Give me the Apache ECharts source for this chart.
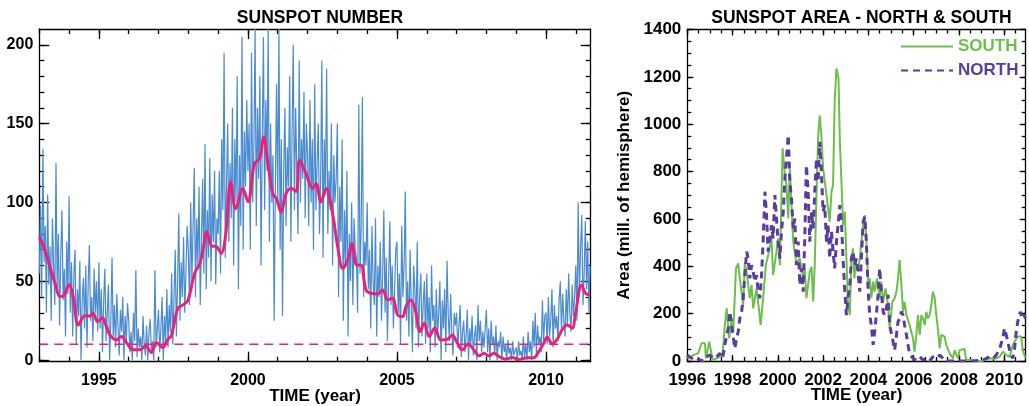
<!DOCTYPE html>
<html>
<head>
<meta charset="utf-8">
<script src="https://cdn.jsdelivr.net/npm/echarts@6/dist/echarts.min.js"></script>
<style>
html,body{margin:0;padding:0;background:#fff;}
#c{width:1029px;height:406px;}
</style>
</head>
<body>
<div id="c"></div>
<script>
// ---------------- DATA ----------------
// Left: daily-like sunspot number, sampled every 0.04 yr from 1993.0 (one row per year)
const blueStartYear = 1993.0;
const blueStepYears = 0.04;
const sunspotValues = [
 55,98,40,134,62,85,30,105,48,72,25,90,60,35,125,45,80,22,66,95,38,58,15,75,42,
 104,30,62,15,55,70,10,45,28,63,0,38,52,20,60,8,48,73,25,40,12,58,30,50,18,
 62,20,45,5,38,58,12,30,48,0,25,65,15,35,8,42,22,3,32,18,40,0,28,12,36,
 25,5,18,0,30,12,57,2,20,8,15,0,28,10,3,22,0,18,26,5,12,0,57,8,20,
 32,5,20,40,0,28,12,45,8,35,18,55,10,40,70,15,50,93,25,62,40,78,30,55,85,
 70,35,100,50,85,122,40,90,60,110,35,75,115,55,137,45,95,65,128,50,105,75,120,48,90,
 80,120,55,140,95,195,65,110,150,75,125,90,160,60,140,100,180,45,130,85,205,70,145,110,165,
 120,150,70,195,100,135,210,85,160,115,180,60,140,205,95,165,120,210,75,150,100,130,25,110,175,
 100,210,70,140,28,120,160,85,135,110,180,75,145,200,95,160,120,80,190,100,140,115,170,90,150,
 130,85,165,100,140,70,175,95,125,150,80,115,190,65,140,105,185,80,120,95,150,60,130,100,115,
 150,40,110,75,140,25,95,60,120,15,80,50,100,35,90,70,65,30,162,55,85,167,40,75,60,
 100,45,70,20,85,50,35,90,15,60,40,75,25,55,95,30,65,12,50,88,35,60,20,45,70,
 75,30,55,10,85,40,60,107,25,50,15,70,35,5,60,45,20,75,8,40,55,15,35,50,10,
 55,20,40,5,60,25,35,8,45,15,30,50,0,38,20,45,5,63,28,12,42,18,3,30,22,
 30,8,22,35,2,18,25,5,15,32,0,20,10,28,3,15,22,0,35,12,25,5,18,8,20,
 32,5,20,0,25,10,15,3,22,0,12,8,18,0,15,5,10,0,13,4,8,0,12,3,6,
 8,0,12,3,6,0,15,2,10,0,18,5,12,0,25,8,30,3,22,10,15,5,38,12,28,
 30,10,40,15,25,45,8,35,20,28,12,38,50,18,42,25,15,45,22,55,30,18,48,28,40,
 60,25,100,40,70,92,35,55,88,45,75,30,60
];
// Left: smoothed sunspot number [year, value]
const smoothedSunspot = [
 [1993.0,78],[1993.13,73],[1993.36,59],[1993.53,48.7],[1993.69,40.3],[1993.83,41],[1994.0,48],[1994.14,40],
 [1994.31,22.3],[1994.53,28.2],[1994.7,28],[1994.81,29.7],[1994.95,24.4],[1995.12,26.8],[1995.23,22.3],
 [1995.37,16],[1995.59,12.8],[1995.76,15],[1995.93,11],[1996.15,6.5],[1996.37,6.5],[1996.57,9],[1996.76,4.8],
 [1996.93,11.2],[1997.13,8],[1997.32,13.3],[1997.43,15.5],[1997.65,33],[1997.82,35],[1997.99,38],[1998.21,55],
 [1998.38,61],[1998.49,70],[1998.62,81.4],[1998.79,72.3],[1998.94,72],[1999.1,67.7],[1999.25,79],[1999.42,113],
 [1999.59,96],[1999.83,108.9],[2000.0,100.4],[2000.22,124.7],[2000.39,127.8],[2000.53,141.5],[2000.67,124.7],
 [2000.83,105.7],[2000.95,102.7],[2001.11,94],[2001.28,105.7],[2001.45,109],[2001.62,107],[2001.73,126.8],
 [2001.95,118.3],[2002.17,108.9],[2002.29,111.8],[2002.45,100.4],[2002.62,108.9],[2002.84,93],[2003.01,72],
 [2003.18,58.2],[2003.35,63.5],[2003.49,74],[2003.65,60.3],[2003.79,60.3],[2003.96,44.5],[2004.13,42.4],
 [2004.35,42],[2004.52,44.5],[2004.69,38.2],[2004.85,39.3],[2005.02,28.7],[2005.19,27.6],[2005.3,33.9],
 [2005.47,38.2],[2005.64,29.7],[2005.77,18.1],[2005.92,23.4],[2006.08,14.9],[2006.27,20.3],[2006.47,12.8],
 [2006.7,13.3],[2006.86,16],[2007.02,11],[2007.19,6.5],[2007.39,10.3],[2007.58,6.5],[2007.75,2.7],[2007.92,4.4],
 [2008.08,2.7],[2008.25,4.4],[2008.42,2.3],[2008.64,0.6],[2008.86,1.7],[2009.09,0.4],[2009.37,1.5],[2009.59,1.5],
 [2009.76,5.5],[2009.93,10.8],[2010.04,14.6],[2010.21,10.3],[2010.38,13.3],[2010.54,19.2],[2010.71,22.3],
 [2010.88,20.3],[2010.99,29.7],[2011.19,47.7],[2011.33,42.4],[2011.46,41.3]
];
const thresholdValue = 10;
const leftXRange = [1993, 2011.5];
const leftYRange = [-1, 210];
const leftYearTicks = [1995, 2000, 2005, 2010];
const leftYearMinorTicks = [1993,1994,1995,1996,1997,1998,1999,2000,2001,2002,2003,2004,2005,2006,2007,2008,2009,2010,2011];
const leftValueTicks = [0, 50, 100, 150, 200];
const leftValueMinorTicks = [0,10,20,30,40,50,60,70,80,90,100,110,120,130,140,150,160,170,180,190,200];

// Right: sunspot area [year, millionths of hemisphere]
const southArea = [
 [1996.0,11],[1996.26,25],[1996.48,32],[1996.63,75],[1996.78,75],[1996.82,11],[1996.97,82],[1997.04,84],[1997.12,4],
 [1997.29,11],[1997.44,18],[1997.56,32],[1997.66,152],[1997.74,222],[1997.85,96],[1997.96,180],[1998.03,124],
 [1998.15,391],[1998.25,412],[1998.32,349],[1998.47,236],[1998.54,412],[1998.62,377],[1998.76,265],[1998.84,321],
 [1998.91,222],[1999.06,307],[1999.13,250],[1999.24,152],[1999.35,265],[1999.47,405],[1999.57,447],[1999.72,518],
 [1999.79,363],[1999.94,462],[2000.01,518],[2000.09,405],[2000.21,898],[2000.31,785],[2000.38,743],[2000.46,602],
 [2000.53,813],[2000.68,504],[2000.82,412],[2000.97,433],[2001.12,349],[2001.19,391],[2001.26,265],[2001.41,377],
 [2001.49,398],[2001.56,250],[2001.63,405],[2001.71,715],[2001.78,947],[2001.85,1038],[2001.93,940],[2002.0,813],
 [2002.15,701],[2002.29,588],[2002.37,715],[2002.44,743],[2002.51,1095],[2002.59,1235],[2002.68,1193],[2002.74,926],
 [2002.81,757],[2002.88,574],[2002.96,630],[2003.03,433],[2003.1,236],[2003.18,194],[2003.25,433],[2003.32,476],
 [2003.38,349],[2003.44,405],[2003.54,377],[2003.62,433],[2003.69,504],[2003.77,574],[2003.84,616],[2003.91,518],
 [2003.99,321],[2004.06,349],[2004.13,265],[2004.21,335],[2004.28,293],[2004.38,349],[2004.5,265],[2004.57,335],
 [2004.65,250],[2004.76,307],[2004.87,236],[2004.94,138],[2005.06,250],[2005.16,265],[2005.24,293],[2005.31,349],
 [2005.38,426],[2005.46,321],[2005.53,208],[2005.6,250],[2005.68,194],[2005.82,152],[2005.97,96],[2006.04,39],
 [2006.12,110],[2006.19,194],[2006.27,110],[2006.34,194],[2006.41,180],[2006.49,152],[2006.56,208],[2006.63,180],
 [2006.71,194],[2006.78,236],[2006.85,293],[2006.93,265],[2007.0,194],[2007.07,138],[2007.15,53],[2007.22,110],
 [2007.3,117],[2007.37,103],[2007.44,68],[2007.59,32],[2007.74,11],[2007.81,46],[2007.88,46],[2007.96,11],
 [2008.03,46],[2008.25,51],[2008.32,4],[2008.47,4],[2008.7,0],[2009.0,0],[2009.35,11],[2009.65,11],[2009.8,18],
 [2009.94,39],[2010.09,25],[2010.24,18],[2010.38,68],[2010.5,89],[2010.6,103],[2010.75,103],[2010.82,46],[2010.94,11]
];
const northArea = [
 [1996.0,25],[1996.19,11],[1996.34,18],[1996.56,4],[1996.7,0],[1996.85,18],[1997.0,25],[1997.15,11],[1997.29,18],
 [1997.44,32],[1997.56,11],[1997.66,68],[1997.74,110],[1997.81,138],[1997.88,208],[1997.96,152],[1998.03,103],
 [1998.1,53],[1998.18,96],[1998.25,124],[1998.32,180],[1998.4,208],[1998.47,265],[1998.54,363],[1998.62,462],
 [1998.69,433],[1998.76,349],[1998.84,405],[1998.91,377],[1998.99,335],[1999.06,363],[1999.13,293],[1999.21,265],
 [1999.28,363],[1999.35,504],[1999.43,715],[1999.5,616],[1999.57,462],[1999.65,518],[1999.72,574],[1999.79,518],
 [1999.87,701],[1999.94,602],[2000.01,504],[2000.09,433],[2000.16,546],[2000.24,630],[2000.31,771],[2000.38,855],
 [2000.46,954],[2000.53,757],[2000.6,687],[2000.68,560],[2000.75,602],[2000.82,405],[2000.9,504],[2000.97,321],
 [2001.04,391],[2001.12,293],[2001.19,518],[2001.26,827],[2001.34,715],[2001.41,504],[2001.49,630],[2001.56,560],
 [2001.63,715],[2001.71,855],[2001.78,757],[2001.85,926],[2001.93,785],[2002.0,630],[2002.07,658],[2002.15,504],
 [2002.22,574],[2002.29,433],[2002.37,546],[2002.44,462],[2002.51,391],[2002.59,504],[2002.66,574],[2002.74,658],
 [2002.81,588],[2002.88,433],[2002.96,293],[2003.03,194],[2003.1,265],[2003.18,321],[2003.25,433],[2003.32,462],
 [2003.4,405],[2003.47,433],[2003.54,377],[2003.62,293],[2003.69,433],[2003.77,588],[2003.84,609],[2003.91,504],
 [2003.99,293],[2004.06,194],[2004.13,152],[2004.21,68],[2004.28,124],[2004.35,194],[2004.43,279],[2004.5,391],
 [2004.57,293],[2004.65,208],[2004.72,194],[2004.8,222],[2004.87,279],[2004.94,152],[2005.09,82],[2005.16,46],
 [2005.24,110],[2005.31,166],[2005.38,180],[2005.46,208],[2005.53,194],[2005.6,152],[2005.68,110],[2005.75,68],
 [2005.82,32],[2005.97,11],[2006.12,4],[2006.27,18],[2006.41,4],[2006.56,11],[2006.71,0],[2006.85,18],[2007.0,11],
 [2007.15,25],[2007.3,11],[2007.44,0],[2008.0,0],[2008.6,0],[2009.06,4],[2009.35,18],[2009.5,11],[2009.65,25],
 [2009.8,53],[2009.94,96],[2010.01,138],[2010.09,110],[2010.16,82],[2010.24,46],[2010.31,25],[2010.38,11],
 [2010.46,53],[2010.53,124],[2010.6,166],[2010.71,208],[2010.79,180],[2010.88,194],[2010.94,180]
];
const rightXRange = [1996, 2010.95];
const rightYRange = [0, 1400];
const rightYearTicks = [1996, 1998, 2000, 2002, 2004, 2006, 2008, 2010];
const rightYearMinorTicks = [1996,1996.5,1997,1997.5,1998,1998.5,1999,1999.5,2000,2000.5,2001,2001.5,2002,2002.5,2003,2003.5,2004,2004.5,2005,2005.5,2006,2006.5,2007,2007.5,2008,2008.5,2009,2009.5,2010,2010.5];
const rightValueTicks = [0, 200, 400, 600, 800, 1000, 1200, 1400];
const rightValueMinorTicks = [0,50,100,150,200,250,300,350,400,450,500,550,600,650,700,750,800,850,900,950,1000,1050,1100,1150,1200,1250,1300,1350,1400];

// ---------------- STYLE ----------------
const FONT = "'Liberation Sans', Arial, Helvetica, sans-serif";
const AX = '#000';
const BLUE = '#4a8bcf';
const PINK = '#e8227c';
const GREEN = '#6cc04a';
const PURPLE = '#5a3c9f';
const plain = (v) => String(v);

function boxAxes(gridIndex, xr, yr, xMaj, xMin, yMaj, yMin, majLen, minLen, fs, xName, yName, o) {
  const line = {color: AX, width: 1.3};
  const base = (extra) => Object.assign({gridIndex, type: 'value', splitLine: {show: false}, axisPointer: {show: false}}, extra);
  const xs = [
    base({position: 'bottom', min: xr[0], max: xr[1],
      axisLine: {show: true, onZero: false, lineStyle: line},
      axisTick: {show: true, inside: true, length: majLen, customValues: xMaj, lineStyle: line},
      axisLabel: {show: true, customValues: xMaj, formatter: plain, fontSize: fs, fontWeight: 'bold', color: '#000', fontFamily: FONT, margin: o.xLabelMargin},
      name: xName, nameLocation: 'middle', nameGap: o.xNameGap, nameMoveOverlap: false,
      nameTextStyle: {fontSize: 17, fontWeight: 'bold', color: '#000', fontFamily: FONT}}),
    base({position: 'bottom', min: xr[0], max: xr[1],
      axisLine: {show: false, onZero: false},
      axisTick: {show: true, inside: true, length: minLen, customValues: xMin, lineStyle: line},
      axisLabel: {show: false}}),
    base({position: 'top', min: xr[0], max: xr[1],
      axisLine: {show: true, onZero: false, lineStyle: line},
      axisTick: {show: true, inside: true, length: majLen, customValues: xMaj, lineStyle: line},
      axisLabel: {show: false}}),
    base({position: 'top', min: xr[0], max: xr[1],
      axisLine: {show: false, onZero: false},
      axisTick: {show: true, inside: true, length: minLen, customValues: xMin, lineStyle: line},
      axisLabel: {show: false}})
  ];
  const ys = [
    base({position: 'left', min: yr[0], max: yr[1],
      axisLine: {show: true, onZero: false, lineStyle: line},
      axisTick: {show: true, inside: true, length: majLen, customValues: yMaj, lineStyle: line},
      axisLabel: {show: true, customValues: yMaj, formatter: plain, fontSize: fs, fontWeight: 'bold', color: '#000', fontFamily: FONT, margin: o.yLabelMargin},
      name: yName || '', nameLocation: 'middle', nameGap: o.yNameGap || 0, nameMoveOverlap: false,
      nameTextStyle: {fontSize: 17, fontWeight: 'bold', color: '#000', fontFamily: FONT}}),
    base({position: 'left', min: yr[0], max: yr[1],
      axisLine: {show: false, onZero: false},
      axisTick: {show: true, inside: true, length: minLen, customValues: yMin, lineStyle: line},
      axisLabel: {show: false}}),
    base({position: 'right', min: yr[0], max: yr[1],
      axisLine: {show: true, onZero: false, lineStyle: line},
      axisTick: {show: true, inside: true, length: majLen, customValues: yMaj, lineStyle: line},
      axisLabel: {show: false}}),
    base({position: 'right', min: yr[0], max: yr[1],
      axisLine: {show: false, onZero: false},
      axisTick: {show: true, inside: true, length: minLen, customValues: yMin, lineStyle: line},
      axisLabel: {show: false}})
  ];
  return {xs, ys};
}

const leftAxes = boxAxes(0, leftXRange, leftYRange, leftYearTicks, leftYearMinorTicks, leftValueTicks, leftValueMinorTicks,
  10, 5, 16, 'TIME (year)', '', {xLabelMargin: 11, xNameGap: 26, yLabelMargin: 6});
const rightAxes = boxAxes(1, rightXRange, rightYRange, rightYearTicks, rightYearMinorTicks, rightValueTicks, rightValueMinorTicks,
  6, 4, 17, 'TIME (year)', 'Area (mill. of hemisphere)', {xLabelMargin: 11, xNameGap: 26, yLabelMargin: 6, yNameGap: 54});

const sunspotData = sunspotValues.map((v, i) => [blueStartYear + i * blueStepYears, v]);

const option = {
  animation: false,
  backgroundColor: '#fff',
  title: [
    {text: 'SUNSPOT NUMBER', left: 315, top: 4, textAlign: 'center',
      textStyle: {fontSize: 17.5, fontWeight: 'bold', color: '#000', fontFamily: FONT}},
    {text: 'SUNSPOT AREA - NORTH & SOUTH', left: 856.5, top: 4, textAlign: 'center',
      textStyle: {fontSize: 17.5, fontWeight: 'bold', color: '#000', fontFamily: FONT}}
  ],
  legend: {
    orient: 'vertical', left: 900, top: 38, padding: 0, itemWidth: 52, itemHeight: 12, itemGap: 7,
    itemStyle: {opacity: 0},
    textStyle: {fontSize: 17, fontWeight: 'bold', fontFamily: FONT},
    data: [
      {name: 'SOUTH', textStyle: {color: GREEN}},
      {name: 'NORTH', textStyle: {color: PURPLE}}
    ]
  },
  grid: [
    {left: 39.3, right: 1029 - 590.7, top: 29, bottom: 406 - 361.7, containLabel: false, outerBoundsMode: 'none'},
    {left: 687.3, right: 1029 - 1025.7, top: 29.5, bottom: 406 - 361, containLabel: false, outerBoundsMode: 'none'}
  ],
  xAxis: leftAxes.xs.concat(rightAxes.xs),
  yAxis: leftAxes.ys.concat(rightAxes.ys),
  series: [
    {name: 'Sunspot number', type: 'line', xAxisIndex: 0, yAxisIndex: 0, data: sunspotData,
      symbol: 'none', clip: true, lineStyle: {color: BLUE, width: 1.2}, z: 2},
    {name: 'Threshold', type: 'line', xAxisIndex: 0, yAxisIndex: 0,
      data: [[leftXRange[0], thresholdValue], [leftXRange[1], thresholdValue]],
      symbol: 'none', lineStyle: {color: PINK, width: 1.5, type: [9, 6]}, z: 3},
    {name: 'Smoothed', type: 'line', xAxisIndex: 0, yAxisIndex: 0, data: smoothedSunspot,
      symbol: 'none', smooth: 0.35, clip: true, lineStyle: {color: PINK, width: 3}, z: 4},
    {name: 'SOUTH', type: 'line', xAxisIndex: 4, yAxisIndex: 4, data: southArea,
      symbol: 'none', clip: true, color: GREEN, lineStyle: {color: GREEN, width: 2}, z: 2},
    {name: 'NORTH', type: 'line', xAxisIndex: 4, yAxisIndex: 4, data: northArea,
      symbol: 'none', clip: true, color: PURPLE, lineStyle: {color: PURPLE, width: 3, type: [7, 5]}, z: 3}
  ]
};

const chart = echarts.init(document.getElementById('c'), null, {renderer: 'canvas'});
chart.setOption(option);
</script>
</body>
</html>
